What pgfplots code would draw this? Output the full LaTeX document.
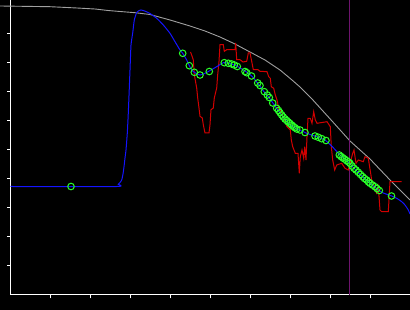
\documentclass[border=0pt]{standalone}
\usepackage{pgfplots}
\pgfplotsset{compat=1.18}
\definecolor{cgrey}{RGB}{160,160,160}
\definecolor{cblue}{RGB}{20,20,255}
\definecolor{cred}{RGB}{210,0,0}
\definecolor{cgreen}{RGB}{40,255,40}
\definecolor{cpurple}{RGB}{110,20,110}
\begin{document}
\begin{tikzpicture}
\fill[black, use as bounding box] (0,0) rectangle (410pt,310pt);
\begin{axis}[
  at={(10.5pt,15pt)}, anchor=south west,
  scale only axis, width=399.5pt, height=295pt,
  xmin=0, xmax=399.5, ymin=0, ymax=295,
  clip=false,
  axis x line*=bottom, axis y line*=left,
  axis line style={white, line width=1pt},
  xtick={40,80,...,360}, ytick={29,58,...,261},
  xticklabel=\empty, yticklabel=\empty,
  tick align=outside, major tick length=3.5pt,
  tick style={white, line width=1pt},
]
\addplot[cgrey, line width=0.9pt] coordinates {(-10.5,289) (39.5,288.3) (66.5,287) (84.5,286) (97.5,284.5) (109.5,283.5) (124.5,282.3) (139.5,280.5) (159.5,275) (179.5,269) (194.5,264) (209.5,258) (224.5,251) (239.5,243) (254.5,235) (269.5,225) (281.5,215) (289.5,208) (301.5,196) (311.5,185) (321.5,174) (339.5,154) (359.5,136) (379.5,115) (399.5,95)};
\addplot[cpurple, line width=1pt] coordinates {(338.8,0) (338.8,295)};
\addplot[cred, line width=1pt] coordinates {(180,243) (181.5,239) (182.8,235) (183.8,220.3) (186.2,207) (187.2,197) (188.5,187) (189.5,178.7) (191.8,177) (192.8,170.3) (194.5,162) (198.5,162) (199.5,170.3) (200.5,185.3) (202.8,187) (203.8,197) (206.2,207) (207.2,220.3) (208.5,233.7) (209.5,250.3) (212.8,250.3) (213.8,243.7) (216.2,245.3) (224.5,245.3) (225.2,252) (226.2,235.3) (229.5,235.3) (232.5,233) (236.2,233.7) (237.8,242) (239.5,242) (241.2,233.7) (242.8,225.3) (247.5,225.3) (249.5,223.7) (256.5,223.3) (258.2,218.3) (259.8,216.7) (260.8,208.3) (263.2,206.7) (264.8,200) (266.5,195) (268.2,186.7) (271.5,181.7) (273.2,176.7) (274.8,173.3) (276.5,168.3) (279.8,165) (280.8,155) (282.2,148.3) (284.8,141.7) (287.5,141.7) (288.8,121.7) (289.8,138.3) (291.5,145) (293.2,136.7) (294.2,148.3) (295.5,135) (296.5,158.3) (297.5,176.7) (299.8,176.7) (301.5,171.7) (303.2,183.3) (304.8,175) (306.5,171.7) (316.5,173.3) (319.8,168.3) (320.8,148.3) (322.2,135) (324.2,125) (326.2,130) (331.2,131.7) (334.5,126.7) (337.8,125) (342.2,141.7) (343.5,145) (345.5,131.7) (347.8,135) (352.8,133.3) (354.5,138.3) (357.8,136.7) (361.2,115) (362.8,111.7) (364.5,105) (366.2,101.7) (367.8,108.3) (369.5,85) (371.2,83.3) (377.8,83.3) (379.5,113.3) (391.2,113.3)};
\addplot[cblue, line width=1pt, smooth, tension=0.3] coordinates {(0,108.5) (106.5,108.5) (107.8,110.7) (109.5,112.5) (111.2,115) (112.5,121) (113.5,128.3) (114.5,137) (115.5,145) (116.8,162) (117.8,182) (118.8,207) (119.5,225) (120.5,250) (122.2,262) (123.8,275) (126.2,282.5) (128.8,284.5) (130.5,285) (132.8,284.5) (136.5,283) (139.5,281.5) (146.2,276.7) (152.8,270) (159.5,261.7) (164.5,253.3) (169.5,245) (172.2,241.7) (176.2,235) (178.8,229.3) (181.2,225) (183.8,222.7) (189.5,220) (194.5,221.7) (198.8,224) (206.2,228.3) (212.8,232.3) (219.5,231.5) (226.2,229) (234.5,224) (241.2,219) (247.8,211) (253.5,203.3) (257.8,198.3) (262.2,192.3) (266.2,186.7) (269.5,182) (274.5,175.5) (279.5,170.5) (286.2,166) (292.8,163.3) (296.2,161.7) (302.8,159.5) (309.5,157) (314.5,155) (321.2,149) (329.5,140) (336.2,134.5) (342.8,127.5) (351.2,119) (359.5,111.7) (367.8,105) (372.8,102) (381.2,99) (386.2,96.7) (391.2,93.3) (394.5,90) (397.8,85) (399.5,81)};
\addplot[only marks, mark=o, mark size=3.3pt, mark options={draw=cgreen, line width=1pt}] coordinates {(60.5,108.5) (172.2,241.7) (178.8,229.3) (183.8,222.7) (189.5,220) (198.8,223.5) (213.8,232.3) (217.8,231.7) (221.2,231) (223.8,230) (226.8,228.5) (234.5,223.5) (236.2,222.3) (241,219) (247.2,212) (249.5,209.5) (253.8,203.3) (256.8,200) (258.8,197.5) (262.2,192) (266.2,186.7) (268,184.5) (269.5,182.3) (271.2,180) (272.8,178) (274.5,176) (276.2,174.5) (277.8,173) (279.5,171.5) (281.2,170) (282.8,168.5) (284.5,167.3) (286.2,166) (289.5,165) (294.5,162.5) (304.5,159) (307.8,157.7) (311.2,156.3) (315.5,154.5) (328.8,140) (330.5,138.5) (332.2,137.3) (334,136) (336.2,134.3) (338,133) (339.5,131.7) (341.5,129) (343.5,126.7) (345.5,125) (347.8,122.7) (350,120.5) (352.2,118.3) (354,116.5) (356.2,115) (358,113) (359.5,111.7) (362,110) (364.5,108.3) (366.5,106.5) (368.8,104.5) (381,99)};
\end{axis}
\end{tikzpicture}
\end{document}
